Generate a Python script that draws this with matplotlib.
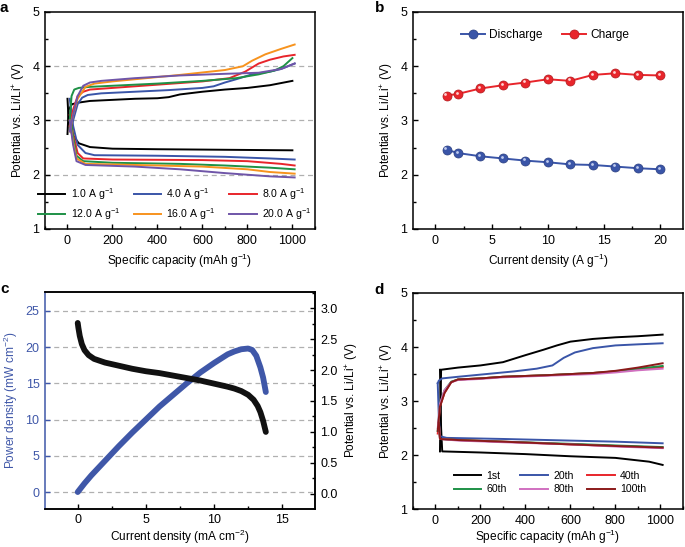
import matplotlib
matplotlib.use("Agg")
import matplotlib.pyplot as plt
import matplotlib.transforms as mtransforms
from matplotlib.ticker import MultipleLocator, FormatStrFormatter

plt.rcParams['font.family'] = ['Liberation Sans', 'DejaVu Sans']
plt.rcParams['mathtext.fontset'] = 'custom'
plt.rcParams['mathtext.rm'] = 'Liberation Sans'
plt.rcParams['mathtext.it'] = 'Liberation Sans:italic'
plt.rcParams['font.size'] = 9
plt.rcParams['axes.labelsize'] = 8.6

# ---- panel a: charge/discharge at different rates ----
rate_labels = ['1.0 A g$^{-1}$', '4.0 A g$^{-1}$', '8.0 A g$^{-1}$',
               '12.0 A g$^{-1}$', '16.0 A g$^{-1}$', '20.0 A g$^{-1}$']
rate_colors = ['#000000', '#3a55a8', '#e8252b', '#1e9146', '#f7931e', '#6f55a8']

a_chg_cap = [
    [0, 5, 20, 50, 100, 200, 300, 400, 450, 500, 600, 700, 800, 900, 1000],
    [10, 25, 45, 65, 90, 150, 300, 450, 600, 650, 700, 750, 820, 900, 950, 1010],
    [10, 25, 45, 70, 100, 200, 400, 600, 720, 790, 850, 900, 960, 1010],
    [10, 18, 30, 50, 100, 200, 400, 600, 750, 850, 920, 960, 1000],
    [10, 25, 45, 80, 120, 200, 400, 500, 700, 780, 820, 880, 950, 1010],
    [10, 25, 45, 70, 100, 150, 300, 500, 700, 850, 950, 1010],
]
a_chg_v = [
    [2.75, 3.2, 3.3, 3.33, 3.36, 3.38, 3.4, 3.41, 3.43, 3.48, 3.53, 3.57, 3.6, 3.65, 3.73],
    [2.8, 3.0, 3.3, 3.42, 3.47, 3.5, 3.53, 3.56, 3.6, 3.63, 3.7, 3.76, 3.85, 3.9, 3.95, 4.05],
    [2.9, 3.2, 3.45, 3.53, 3.57, 3.6, 3.66, 3.72, 3.78, 3.9, 4.05, 4.12, 4.18, 4.21],
    [3.0, 3.45, 3.57, 3.6, 3.62, 3.64, 3.68, 3.73, 3.78, 3.85, 3.92, 4.0, 4.15],
    [2.8, 3.1, 3.4, 3.62, 3.68, 3.72, 3.8, 3.84, 3.93, 4.0, 4.1, 4.22, 4.32, 4.4],
    [2.8, 3.1, 3.45, 3.64, 3.7, 3.73, 3.78, 3.83, 3.86, 3.88, 3.95, 4.05],
]
a_dis_cap = [
    [0, 5, 20, 50, 100, 200, 400, 700, 1000],
    [10, 25, 45, 80, 120, 400, 700, 900, 1010],
    [10, 25, 45, 70, 200, 600, 800, 950, 1010],
    [15, 25, 40, 70, 200, 500, 700, 900, 1010],
    [10, 25, 40, 80, 300, 600, 800, 900, 1010],
    [10, 25, 40, 80, 300, 500, 700, 900, 1010],
]
a_dis_v = [
    [3.4, 3.0, 2.75, 2.58, 2.51, 2.48, 2.47, 2.46, 2.45],
    [3.4, 2.9, 2.55, 2.4, 2.36, 2.35, 2.33, 2.3, 2.28],
    [3.1, 2.75, 2.4, 2.3, 2.28, 2.27, 2.25, 2.2, 2.17],
    [3.0, 2.7, 2.35, 2.25, 2.22, 2.2, 2.17, 2.13, 2.1],
    [3.0, 2.6, 2.3, 2.2, 2.18, 2.15, 2.1, 2.05, 2.02],
    [3.0, 2.55, 2.25, 2.18, 2.15, 2.1, 2.03, 1.97, 1.95],
]

# ---- panel b: average potentials vs current density ----
b_current = [1, 2, 4, 6, 8, 10, 12, 14, 16, 18, 20]
b_discharge = [2.46, 2.40, 2.34, 2.30, 2.26, 2.23, 2.19, 2.18, 2.15, 2.12, 2.10]
b_charge = [3.46, 3.49, 3.59, 3.65, 3.70, 3.76, 3.73, 3.84, 3.87, 3.84, 3.83]

# ---- panel c: polarization and power density ----
c_pow_i = [0, 0.5, 1, 2, 3, 4, 5, 6, 7, 8, 9, 10, 11, 11.5, 12, 12.5, 12.8, 13.1, 13.4, 13.6, 13.8]
c_pow = [0, 1.2, 2.3, 4.3, 6.3, 8.2, 10, 11.8, 13.4, 15, 16.5, 17.8, 19.0, 19.4, 19.7, 19.8,
         19.6, 18.8, 17.2, 15.8, 13.8]
c_volt_i = [0, 0.05, 0.15, 0.3, 0.5, 0.8, 1.2, 2, 3, 4, 5, 6, 7, 8, 9, 10, 11, 11.5, 12,
            12.5, 12.9, 13.2, 13.4, 13.6, 13.8]
c_volt = [2.76, 2.68, 2.55, 2.42, 2.32, 2.24, 2.18, 2.12, 2.07, 2.02, 1.98, 1.95, 1.91, 1.87,
          1.83, 1.78, 1.73, 1.70, 1.66, 1.60, 1.52, 1.42, 1.32, 1.18, 1.0]

# ---- panel d: cycling ----
cycle_labels = ['1st', '20th', '40th', '60th', '80th', '100th']
cycle_colors = ['#000000', '#3a55a8', '#e8252b', '#1e9146', '#d070c0', '#8b1a1a']
d_chg_cap = [
    [20, 22, 25, 100, 200, 300, 400, 480, 540, 600, 700, 800, 900, 1010],
    [10, 15, 30, 100, 200, 350, 450, 520, 570, 620, 700, 800, 900, 1010],
    [10, 20, 40, 70, 100, 200, 300, 500, 700, 800, 900, 1010],
    [10, 20, 40, 70, 100, 200, 300, 500, 700, 800, 900, 1010],
    [10, 20, 40, 70, 100, 200, 300, 500, 700, 800, 900, 1010],
    [10, 20, 40, 70, 100, 200, 300, 500, 700, 800, 900, 1010],
]
d_chg_v = [
    [2.07, 2.8, 3.58, 3.62, 3.66, 3.72, 3.85, 3.95, 4.03, 4.1, 4.15, 4.18, 4.2, 4.23],
    [3.33, 3.38, 3.42, 3.45, 3.49, 3.55, 3.6, 3.66, 3.8, 3.9, 3.98, 4.03, 4.05, 4.07],
    [2.4, 2.9, 3.15, 3.35, 3.4, 3.42, 3.45, 3.48, 3.52, 3.55, 3.58, 3.63],
    [2.45, 2.95, 3.2, 3.36, 3.4, 3.42, 3.45, 3.48, 3.52, 3.55, 3.6, 3.65],
    [2.5, 2.95, 3.2, 3.35, 3.39, 3.41, 3.44, 3.47, 3.5, 3.53, 3.57, 3.6],
    [2.45, 2.9, 3.15, 3.35, 3.4, 3.42, 3.45, 3.48, 3.52, 3.56, 3.62, 3.7],
]
d_dis_cap = [
    [20, 25, 30, 200, 400, 600, 800, 950, 1010],
    [10, 15, 20, 50, 300, 600, 800, 1010],
    [15, 20, 100, 300, 600, 800, 1010],
    [15, 20, 100, 300, 600, 800, 1010],
    [15, 20, 100, 300, 600, 800, 1010],
    [15, 20, 100, 300, 600, 800, 1010],
]
d_dis_v = [
    [3.58, 2.5, 2.07, 2.05, 2.02, 1.98, 1.95, 1.88, 1.82],
    [3.33, 2.7, 2.35, 2.32, 2.3, 2.27, 2.25, 2.22],
    [2.6, 2.3, 2.28, 2.25, 2.2, 2.17, 2.14],
    [2.6, 2.3, 2.28, 2.25, 2.21, 2.18, 2.15],
    [2.6, 2.3, 2.27, 2.24, 2.2, 2.16, 2.13],
    [2.6, 2.3, 2.28, 2.25, 2.2, 2.17, 2.14],
]

ylab = 'Potential vs. Li/Li$^{+}$ (V)'
cap_lab = 'Specific capacity (mAh g$^{-1}$)'
# legend is filled row by row in the figure, matplotlib fills columns
row_order = [0, 3, 1, 4, 2, 5]


def style_axis(ax):
    ax.tick_params(which='both', direction='in', top=False, right=False, pad=4)
    ax.tick_params(which='major', length=3.5, width=1)
    ax.tick_params(which='minor', length=2, width=1)
    for s in ax.spines.values():
        s.set_linewidth(1.1)


def capacity_axis(ax):
    ax.set_xlim(-100, 1100)
    ax.set_ylim(1, 5)
    ax.xaxis.set_major_locator(MultipleLocator(200))
    ax.xaxis.set_minor_locator(MultipleLocator(100))
    ax.yaxis.set_major_locator(MultipleLocator(1))
    ax.yaxis.set_minor_locator(MultipleLocator(0.5))
    ax.set_xlabel(cap_lab)
    ax.set_ylabel(ylab)
    style_axis(ax)


def row_legend(ax, anchor, hlen):
    h, l = ax.get_legend_handles_labels()
    ax.legend([h[i] for i in row_order], [l[i] for i in row_order],
              loc='center', bbox_to_anchor=anchor, ncol=3, frameon=False,
              fontsize=7.6, handlelength=hlen, columnspacing=1.3, handletextpad=0.5,
              labelspacing=0.35)


fig = plt.figure(figsize=(6.85, 5.47), dpi=100)
ax_a = fig.add_axes([0.0657, 0.5814, 0.394, 0.3967])
ax_b = fig.add_axes([0.6029, 0.5814, 0.394, 0.3967])
ax_c = fig.add_axes([0.0657, 0.0700, 0.394, 0.3962])
ax_d = fig.add_axes([0.6029, 0.0690, 0.394, 0.3954])

# a
for y in [2, 3, 4]:
    ax_a.axhline(y, color='#b0b0b0', lw=0.9, ls=(0, (4, 3)), zorder=0)
for i in range(6):
    ax_a.plot(a_chg_cap[i], a_chg_v[i], color=rate_colors[i], lw=1.4, label=rate_labels[i])
    ax_a.plot(a_dis_cap[i], a_dis_v[i], color=rate_colors[i], lw=1.4)
capacity_axis(ax_a)
row_legend(ax_a, (0.48, 0.115), 2.6)

# b
hl = mtransforms.offset_copy(ax_b.transData, fig=fig, x=-1.0, y=1.0, units='points')
ax_b.plot(b_current, b_discharge, '-o', color='#3a55a8', ms=6.5, lw=1.4,
          mec='#2b3f80', mew=0.5, label='Discharge')
ax_b.plot(b_current, b_charge, '-o', color='#e8252b', ms=6.5, lw=1.4,
          mec='#b01a1e', mew=0.5, label='Charge')
ax_b.plot(b_current, b_discharge, 'o', color='#c0cbee', ms=2, mew=0, transform=hl)
ax_b.plot(b_current, b_charge, 'o', color='#ffd0d0', ms=2, mew=0, transform=hl)
ax_b.set_xlim(-2, 22)
ax_b.set_ylim(1, 5)
ax_b.xaxis.set_major_locator(MultipleLocator(5))
ax_b.xaxis.set_minor_locator(MultipleLocator(2.5))
ax_b.yaxis.set_major_locator(MultipleLocator(1))
ax_b.yaxis.set_minor_locator(MultipleLocator(0.5))
ax_b.set_xlabel('Current density (A g$^{-1}$)')
ax_b.set_ylabel(ylab)
style_axis(ax_b)
ax_b.legend(loc='center', bbox_to_anchor=(0.49, 0.894), ncol=2, frameon=False,
            fontsize=8.6, handlelength=2.0, columnspacing=1.6, handletextpad=0.4)

# c
blue = '#3f57a8'
for y in range(0, 30, 5):
    ax_c.axhline(y, color='#b0b0b0', lw=0.9, ls=(0, (4, 3)), zorder=0)
ax_c.plot(c_pow_i, c_pow, color=blue, lw=4.2, solid_capstyle='round', zorder=3)
ax_c.set_xlim(-2.4, 17.4)
ax_c.set_ylim(-2.3, 27.6)
ax_c.xaxis.set_major_locator(MultipleLocator(5))
ax_c.xaxis.set_minor_locator(MultipleLocator(2.5))
ax_c.yaxis.set_major_locator(MultipleLocator(5))
ax_c.set_xlabel('Current density (mA cm$^{-2}$)', labelpad=1)
ax_c.set_ylabel('Power density (mW cm$^{-2}$)', color=blue)
style_axis(ax_c)
ax_c.tick_params(axis='y', colors=blue)
ax_c.spines['left'].set_color(blue)
ax_c2 = ax_c.twinx()
ax_c2.plot(c_volt_i, c_volt, color='#111111', lw=4.2, solid_capstyle='round', zorder=3)
ax_c2.set_ylim(-0.24, 3.26)
ax_c2.yaxis.set_major_locator(MultipleLocator(0.5))
ax_c2.yaxis.set_minor_locator(MultipleLocator(0.25))
ax_c2.yaxis.set_major_formatter(FormatStrFormatter('%.1f'))
ax_c2.tick_params(which='both', direction='in', pad=4)
ax_c2.tick_params(which='major', length=3.5, width=1)
ax_c2.tick_params(which='minor', length=2, width=1)
ax_c2.set_ylabel(ylab)
ax_c2.spines['left'].set_visible(False)
for s in ax_c2.spines.values():
    s.set_linewidth(1.1)

# d
for i in range(6):
    ax_d.plot(d_chg_cap[i], d_chg_v[i], color=cycle_colors[i], lw=1.4, label=cycle_labels[i])
    ax_d.plot(d_dis_cap[i], d_dis_v[i], color=cycle_colors[i], lw=1.4)
capacity_axis(ax_d)
ax_d.xaxis.labelpad = 1
row_legend(ax_d, (0.507, 0.124), 2.6)

for letter, x, y in [('a', 0.0, 0.998), ('b', 0.547, 0.998), ('c', 0.0, 0.485), ('d', 0.547, 0.482)]:
    fig.text(x, y, letter, fontsize=11, fontweight='bold', va='top')

fig.savefig('out.png', dpi=100)
